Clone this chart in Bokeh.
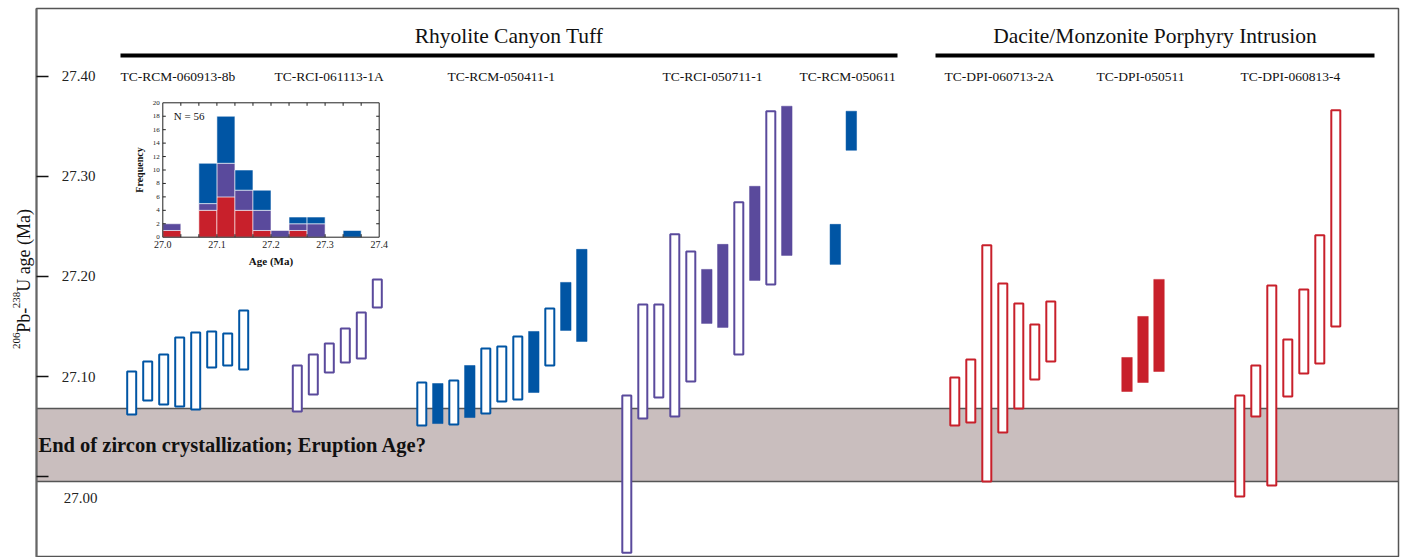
import math
from bokeh.plotting import figure
from bokeh.layouts import row
from bokeh.models import Range1d, FixedTicker, CustomJSTickFormatter, ColumnDataSource
from bokeh.core.properties import value
from bokeh.embed import file_html
from bokeh.resources import INLINE

# ---------------- data ----------------
unit_names = ["Rhyolite Canyon Tuff", "Dacite/Monzonite Porphyry Intrusion"]

sample_names = ["TC-RCM-060913-8b", "TC-RCI-061113-1A", "TC-RCM-050411-1", "TC-RCI-050711-1",
                "TC-RCM-050611", "TC-DPI-060713-2A", "TC-DPI-050511", "TC-DPI-060813-4"]
sample_colors = ["blue", "purple", "blue", "purple", "blue", "red", "red", "red"]

# upper / lower age limits (Ma) of each zircon, filled = 1 means solid bar
s1_hi = [27.105, 27.115, 27.122, 27.139, 27.144, 27.145, 27.143, 27.166]
s1_lo = [27.062, 27.076, 27.072, 27.070, 27.067, 27.109, 27.111, 27.107]
s1_fill = [0, 0, 0, 0, 0, 0, 0, 0]

s2_hi = [27.111, 27.122, 27.133, 27.148, 27.164, 27.197]
s2_lo = [27.065, 27.082, 27.104, 27.114, 27.118, 27.169]
s2_fill = [0, 0, 0, 0, 0, 0]

s3_hi = [27.094, 27.093, 27.096, 27.111, 27.128, 27.130, 27.140, 27.145, 27.168, 27.194, 27.227]
s3_lo = [27.051, 27.053, 27.052, 27.059, 27.063, 27.075, 27.077, 27.084, 27.111, 27.146, 27.135]
s3_fill = [0, 1, 0, 1, 0, 0, 0, 1, 0, 1, 1]

s4_hi = [27.081, 27.172, 27.172, 27.242, 27.225, 27.207, 27.232, 27.274, 27.290, 27.365, 27.370]
s4_lo = [26.924, 27.058, 27.079, 27.060, 27.095, 27.153, 27.149, 27.122, 27.196, 27.192, 27.221]
s4_fill = [0, 0, 0, 0, 0, 1, 1, 0, 1, 0, 1]

s5_hi = [27.252, 27.365]
s5_lo = [27.212, 27.326]
s5_fill = [1, 1]

s6_hi = [27.099, 27.117, 27.231, 27.193, 27.173, 27.152, 27.175]
s6_lo = [27.051, 27.054, 26.995, 27.044, 27.068, 27.097, 27.115]
s6_fill = [0, 0, 0, 0, 0, 0, 0]

s7_hi = [27.119, 27.160, 27.197]
s7_lo = [27.085, 27.094, 27.105]
s7_fill = [1, 1, 1]

s8_hi = [27.081, 27.111, 27.191, 27.137, 27.187, 27.241, 27.366]
s8_lo = [26.980, 27.060, 26.991, 27.080, 27.103, 27.113, 27.150]
s8_fill = [0, 0, 0, 0, 0, 0, 0]

band_lo = 26.995
band_hi = 27.068
band_text = "End of zircon crystallization; Eruption Age?"

ytick_vals = [27.00, 27.10, 27.20, 27.30, 27.40]
ytick_labels = ["27.00", "27.10", "27.20", "27.30", "27.40"]
# y-axis title pieces: (text, is_superscript)
ytitle_parts = [("206", True), ("Pb-", False), ("238", True), ("U age (Ma)", False)]

# inset histogram
hist_start = 27.0
hist_bin = 1.0 / 30.0
hist_red = [1, 0, 4, 6, 4, 1, 0, 1, 0, 0, 0, 0]
hist_purple = [1, 0, 1, 5, 3, 3, 1, 1, 2, 0, 0, 0]
hist_blue = [0, 0, 6, 7, 3, 3, 0, 1, 1, 0, 1, 0]
hist_xticks = [27.0, 27.1, 27.2, 27.3, 27.4]
hist_xlabels = ["27.0", "27.1", "27.2", "27.3", "27.4"]
hist_yticks = [0, 2, 4, 6, 8, 10, 12, 14, 16, 18, 20]
hist_n_text = "N = 56"

# ---------------- layout / style ----------------
COL = {"blue": "#0055a4", "purple": "#5a4a9c", "red": "#c8202b"}
FONTNAME = "Liberation Serif"
FONT = value(FONTNAME)

TW = 35                   # width of the strip that carries the y-axis title
W, H = 1400, 557
FX0, FX1 = 36, 1398       # main frame in page px
FY0, FY1 = 8, 557

def yv(page_y):  # page pixel -> age (Ma), calibration of the y scale
    return 27.40 - (page_y - 75.7) / 1001.0

group_x0 = [131.2, 296.8, 421.3, 626.3, 834.8, 954.3, 1126.5, 1239.3]
label_x = [120, 274, 447, 662, 799, 944, 1096, 1240]
STEP = 16.0
BOXW = 11.0

# ---- y-axis title strip ----
t = figure(width=TW, height=H, x_range=Range1d(0, TW), y_range=Range1d(H, 0),
           output_backend="svg", toolbar_location=None, x_axis_type=None, y_axis_type=None,
           min_border_left=0, min_border_right=0, min_border_top=0, min_border_bottom=0)
t.grid.visible = False
t.outline_line_color = None
t.background_fill_color = "white"
t.border_fill_color = "white"
MAIN_PX, SUP_PX = 18, 11
def text_width(s, px):
    em = {"P": 556, "b": 500, "-": 333, "U": 722, " ": 250, "a": 444, "g": 500, "e": 444,
          "(": 333, ")": 333, "M": 889}
    return sum(em.get(ch, 500) for ch in s) * px / 1000.0
ty = 345.5
for txt, sup in ytitle_parts:
    px = SUP_PX if sup else MAIN_PX
    t.text(x=[15.5 if sup else 23.0], y=[ty], text=[txt], angle=math.pi / 2,
           text_align="left", text_baseline="middle", text_font=FONT,
           text_font_size=f"{px}px", text_color="#111111")
    ty -= text_width(txt, px)

# ---- main plot ----
MW = W - TW
p = figure(width=MW, height=H, x_range=Range1d(FX0, FX1), y_range=Range1d(yv(FY1), yv(FY0)),
           output_backend="svg", toolbar_location=None, x_axis_type=None,
           min_border_left=FX0 - TW, min_border_right=W - FX1, min_border_top=FY0,
           min_border_bottom=H - FY1)
p.grid.visible = False
p.outline_line_color = "#555555"
p.outline_line_width = 1.5
p.background_fill_color = "white"
p.border_fill_color = "white"

ax = p.yaxis[0]
ax.ticker = FixedTicker(ticks=ytick_vals)
ax.formatter = CustomJSTickFormatter(code="return ''")
ax.major_tick_in = 12
ax.major_tick_out = 0
ax.minor_tick_in = 0
ax.minor_tick_out = 0
ax.major_tick_line_color = "#111111"
ax.major_tick_line_width = 1.5
ax.axis_line_color = "#666666"
ax.axis_line_width = 2
ax.major_label_standoff = 0

# band
p.quad(left=FX0, right=FX1, bottom=band_lo, top=band_hi, fill_color="#c9bebe",
       line_color="#555555", line_width=1.5)
p.text(x=[FX0 + 2], y=[(band_lo + band_hi) / 2], text=[band_text], text_font=FONT,
       text_font_size="20.5px", text_font_style="bold", text_align="left",
       text_baseline="middle", text_color="#111111")

# y tick labels (inside the frame)
p.text(x=[78] * 4, y=ytick_vals[1:], text=ytick_labels[1:], text_font=FONT, text_font_size="15px",
       text_align="center", text_baseline="middle", text_color="#222222")
p.text(x=[80], y=ytick_vals[:1], text=ytick_labels[:1], text_font=FONT, text_font_size="15px",
       text_align="center", text_baseline="middle", y_offset=21, text_color="#222222")

# boxes
his = [s1_hi, s2_hi, s3_hi, s4_hi, s5_hi, s6_hi, s7_hi, s8_hi]
los = [s1_lo, s2_lo, s3_lo, s4_lo, s5_lo, s6_lo, s7_lo, s8_lo]
fills = [s1_fill, s2_fill, s3_fill, s4_fill, s5_fill, s6_fill, s7_fill, s8_fill]
for g in range(len(sample_names)):
    c = COL[sample_colors[g]]
    op = dict(left=[], right=[], top=[], bottom=[])
    fl = dict(left=[], right=[], top=[], bottom=[])
    for i, (hi, lo, f) in enumerate(zip(his[g], los[g], fills[g])):
        xc = group_x0[g] + i * STEP
        d = fl if f else op
        w = BOXW - 0.5 if f else BOXW - 2
        d["left"].append(xc - w / 2)
        d["right"].append(xc + w / 2)
        d["top"].append(hi)
        d["bottom"].append(lo)
    if op["left"]:
        p.quad(source=ColumnDataSource(op), left="left", right="right", top="top", bottom="bottom",
               fill_color="white", line_color=c, line_width=2)
    if fl["left"]:
        p.quad(source=ColumnDataSource(fl), left="left", right="right", top="top", bottom="bottom",
               fill_color=c, line_color=c, line_width=0.5)

# sample labels
p.text(x=label_x, y=[yv(75.5)] * len(label_x), text=sample_names, text_font=FONT,
       text_font_size="13.5px", text_align="left", text_baseline="middle", text_color="#111111")

# unit headers with thick rules
unit_l = [120, 935]
unit_r = [897, 1374]
unit_x = [(a + b) / 2 for a, b in zip(unit_l, unit_r)]
p.text(x=unit_x, y=[yv(35)] * 2, text=unit_names, text_font=FONT, text_font_size="21.5px",
       text_align="center", text_baseline="middle", text_color="#111111")
p.segment(x0=unit_l, x1=unit_r, y0=[yv(55)] * 2, y1=[yv(55)] * 2, line_color="black", line_width=4)

# ---------------- inset histogram ----------------
IL, IR, IT, IB = 162.3, 378.7, 102.3, 236.7   # inset frame in page px
hx0, hx1, hy0, hy1 = 27.0, 27.4, 0.0, 20.0
def hxv(px):
    return hx0 + (px - IL) / (IR - IL) * (hx1 - hx0)
def hyv(py):
    return hy0 + (IB - py) / (IB - IT) * (hy1 - hy0)
p.extra_x_ranges = {"hx": Range1d(hxv(FX0), hxv(FX1))}
p.extra_y_ranges = {"hy": Range1d(hyv(FY1), hyv(FY0))}
R = dict(x_range_name="hx", y_range_name="hy")

p.quad(left=hx0, right=hx1, bottom=hy0, top=hy1, fill_color="white", line_color=None, **R)
edges = [hist_start + k * hist_bin for k in range(len(hist_red) + 1)]
lefts = edges[:-1]
rights = edges[1:]
r_top = [float(r) for r in hist_red]
p_top = [r + q for r, q in zip(r_top, hist_purple)]
b_top = [q + b for q, b in zip(p_top, hist_blue)]
for bot, top, c in [([0.0] * len(r_top), r_top, "red"), (r_top, p_top, "purple"), (p_top, b_top, "blue")]:
    idx = [k for k in range(len(top)) if top[k] > bot[k]]
    p.quad(left=[lefts[k] for k in idx], right=[rights[k] for k in idx],
           bottom=[bot[k] for k in idx], top=[top[k] for k in idx],
           fill_color=COL[c], line_color="white", line_width=0.8, line_alpha=0.7, **R)
p.quad(left=hx0, right=hx1, bottom=hy0, top=hy1, fill_color=None, line_color="#222222",
       line_width=1, **R)

tlx = 3.0 * (hx1 - hx0) / (IR - IL)
tly = 3.0 * (hy1 - hy0) / (IB - IT)
inner = edges[1:-1]
p.segment(x0=inner, x1=inner, y0=[hy1] * len(inner), y1=[hy1 - tly] * len(inner),
          line_color="#222222", line_width=1, **R)
p.segment(x0=inner, x1=inner, y0=[hy0] * len(inner), y1=[hy0 + tly] * len(inner),
          line_color="#222222", line_width=1, **R)
yt = hist_yticks[1:-1]
p.segment(x0=[hx0] * len(yt), x1=[hx0 + tlx] * len(yt), y0=yt, y1=yt,
          line_color="#222222", line_width=1, **R)
p.segment(x0=[hx1] * len(yt), x1=[hx1 - tlx] * len(yt), y0=yt, y1=yt,
          line_color="#222222", line_width=1, **R)

p.text(x=[hx0] * len(hist_yticks), y=hist_yticks, text=[str(v) for v in hist_yticks],
       text_font=FONT, text_font_size="7px", text_align="right", text_baseline="middle",
       x_offset=-3, text_color="#222222", **R)
p.text(x=hist_xticks, y=[hy0] * len(hist_xticks), text=hist_xlabels, text_font=FONT,
       text_font_size="10px", text_align="center", text_baseline="top", y_offset=4,
       text_color="#222222", **R)
p.text(x=[hx0], y=[(hy0 + hy1) / 2], text=["Frequency"], text_font=FONT, text_font_size="10px",
       text_font_style="bold", text_align="center", text_baseline="middle", angle=math.pi / 2,
       x_offset=-23, text_color="#111111", **R)
p.text(x=[(hx0 + hx1) / 2], y=[hy0], text=["Age (Ma)"], text_font=FONT, text_font_size="11px",
       text_font_style="bold", text_align="center", text_baseline="top", y_offset=18,
       text_color="#111111", **R)
p.text(x=[hx0], y=[hy1], text=[hist_n_text], text_font=FONT, text_font_size="11px",
       text_align="left", text_baseline="middle", x_offset=11, y_offset=13, text_color="#111111", **R)

layout = row(t, p, spacing=0)
open("out.html", "w").write(file_html(layout, INLINE))
